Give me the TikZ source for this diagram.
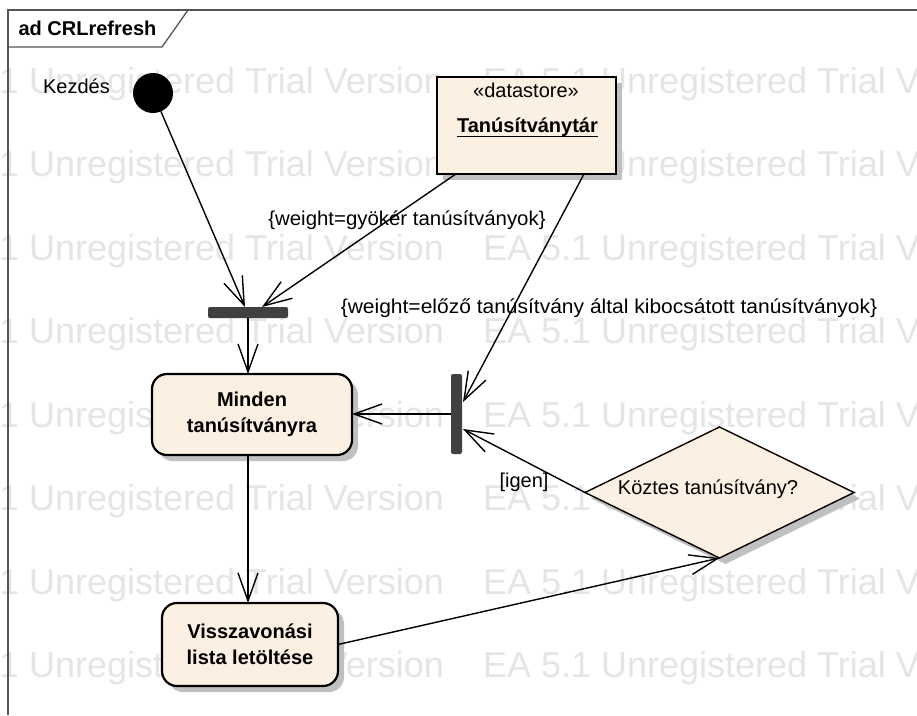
\documentclass[tikz,border=0pt]{standalone}
\usepackage{fontspec}
\setmainfont{Liberation Sans}
\usetikzlibrary{arrows.meta,shapes.geometric,calc,shadows}
\definecolor{cream}{RGB}{251,240,225}
\definecolor{shade}{RGB}{192,192,192}
\definecolor{wm}{RGB}{229,229,229}
\definecolor{barc}{RGB}{64,64,64}
\definecolor{framec}{RGB}{85,85,85}
\begin{document}
\begin{tikzpicture}[x=1pt,y=-1pt,
  every node/.style={inner sep=0pt, outer sep=0pt},
  lbl/.style={font=\fontsize{20}{24}\selectfont, anchor=base},
  blbl/.style={font=\fontsize{20}{24}\selectfont\bfseries, anchor=base},
  wmark/.style={font=\fontsize{36}{40}\selectfont, text=wm, anchor=base west},
  shadowed/.style={drop shadow={shadow xshift=6pt, shadow yshift=-6pt, fill=shade, opacity=1}},
  act/.style={draw, line width=2.2pt, fill=cream, rounded corners=15pt, shadowed,
              align=center, font=\fontsize{20}{26}\selectfont\bfseries},
  store/.style={draw, line width=2.2pt, fill=cream, shadowed},
  decision/.style={diamond, aspect=2.05, draw, line width=1.4pt, fill=cream, shadowed},
  barst/.style={fill=barc, rounded corners=2pt},
  flow/.style={line width=1.4pt, -{Straight Barb[length=28pt,width=20pt]}}
]
\useasboundingbox (0,0) rectangle (917,715);
\fill[white] (0,0) rectangle (917,715);

% watermark
\foreach \yy [count=\i] in {93,176.5,260,343.5,427,510.5,594,677.5} {
  \node[wmark] (wa\i) at (-89,\yy) {EA 5.1 Unregistered Trial Version};
  \node[wmark] (wb\i) at (483,\yy) {EA 5.1 Unregistered Trial Version};
}

% frame
\draw[framec, line width=1.3pt] (917,10) -- (8,10) -- (8,715);
\draw[framec, line width=1.3pt] (8,47) -- (162,47) -- (188,10);
\node[blbl] (title) at (87.5,35) {ad CRLrefresh};

% nodes
\node[circle, fill=black, minimum size=40pt] (start) at (153,93) {};
\node[lbl] (kez) at (76.5,93) {Kezdés};

\node[store, minimum width=179pt, minimum height=97pt] (ds) at (526.5,125.5) {};
\node[lbl] (dst) at (526,97) {«datastore»};
\node[blbl] (tt) at (527.5,132) {Tanúsítványtár};
\draw[line width=1.3pt] ($(tt.base west)+(0,4.5)$) -- ($(tt.base east)+(0,4.5)$);

\node[barst, minimum width=80pt, minimum height=11pt] (bar1) at (248,312.5) {};
\node[barst, minimum width=11pt, minimum height=80pt] (bar2) at (456.5,414) {};

\node[act, minimum width=200pt, minimum height=81pt] (min) at (252,414.5) {Minden\\tanúsítványra};
\node[act, minimum width=176pt, minimum height=83pt] (vis) at (250,644.5) {Visszavonási\\lista letöltése};

\node[decision, minimum width=269pt, minimum height=131pt] (dec) at (719.5,492.5) {};
\node[lbl] (q) at (708,494) {Köztes tanúsítvány?};

% connectors
\draw[flow] (start) -- ($(bar1.north)+(-3,0)$);
\draw[flow] (ds) -- ($(bar1.north)+(14,0)$);
\node[lbl, xscale=1.02, transform shape] (l1) at (407,225) {\{weight=gyökér tanúsítványok\}};
\draw[flow] ($(ds.south east)+(-32,0)$) -- ($(bar2.east)+(1,-12)$);
\node[lbl, xscale=1.05, transform shape] (l2) at (609,313) {\{weight=előző tanúsítvány által kibocsátott tanúsítványok\}};
\draw[flow] (bar1.south) -- (bar1.south |- min.north);
\draw[flow] (bar2.west) -- (bar2.west -| min.east);
\draw[flow] (min.south -| bar1.south) -- (vis.north -| bar1.south);
\draw[flow] (vis.east) -- (dec.south);
\draw[flow] (dec.west) -- ($(bar2.east)+(1,15)$);
\node[lbl] (igen) at (524,487) {[igen]};
\end{tikzpicture}
\end{document}
